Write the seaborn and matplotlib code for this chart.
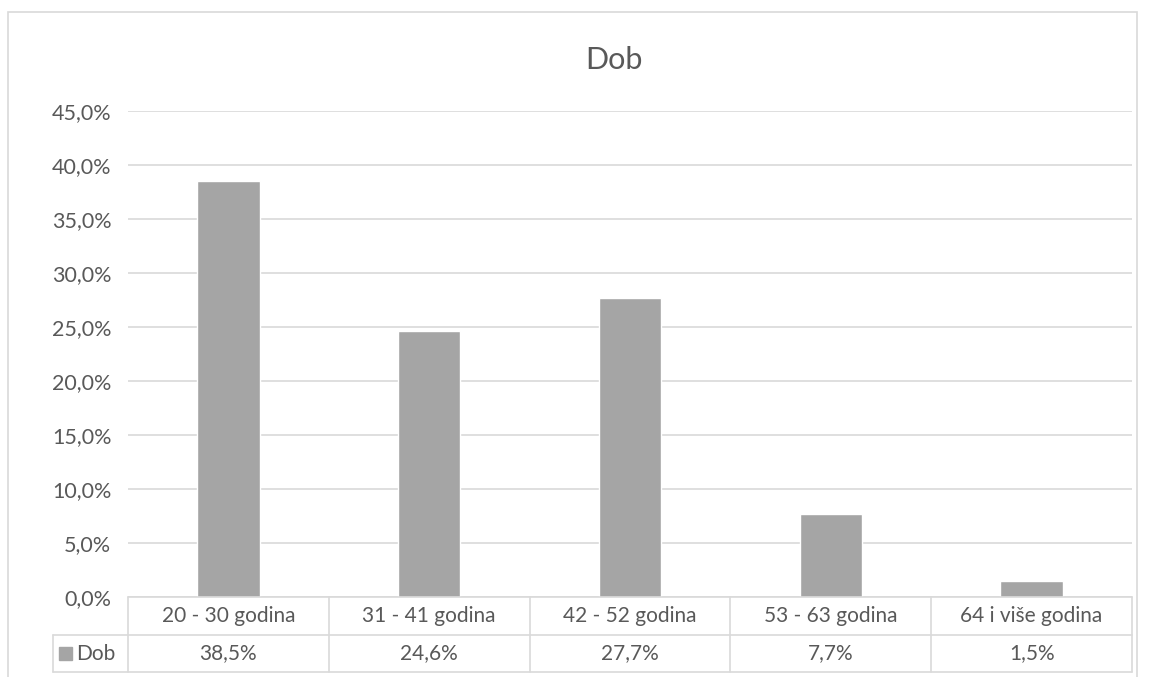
import matplotlib
matplotlib.use("Agg")
import matplotlib.pyplot as plt
import seaborn as sns
import pandas as pd
from matplotlib.ticker import FuncFormatter
from matplotlib.patches import Rectangle

# data
categories = ["20 - 30 godina", "31 - 41 godina", "42 - 52 godina", "53 - 63 godina", "64 i više godina"]
values = [0.385, 0.246, 0.277, 0.077, 0.015]
value_labels = ["38,5%", "24,6%", "27,7%", "7,7%", "1,5%"]
series_name = "Dob"

df = pd.DataFrame({"Kategorija": categories, "Udio": values})

sns.set_theme(style="white")
plt.rcParams['font.family'] = ['Lato', 'DejaVu Sans']

text_col = "#595959"
grid_col = "#D9D9D9"
bar_col = "#A5A5A5"

fig = plt.figure(figsize=(11.5, 6.77), dpi=100)
ax = fig.add_axes([128/1150, 1 - 597/677, (1132-128)/1150, (597-111)/677])

sns.barplot(data=df, x="Kategorija", y="Udio", color=bar_col, width=0.31,
            saturation=1, ax=ax)

ax.set_ylim(0, 0.45)
ax.set_yticks([i * 0.05 for i in range(10)])
ax.yaxis.set_major_formatter(FuncFormatter(lambda v, p: f"{v*100:.1f}%".replace(".", ",")))
ax.tick_params(axis="y", labelsize=15.5, colors=text_col, length=0, pad=12)
ax.set_xticks([])
ax.set_xlabel("")
ax.set_ylabel("")
ax.grid(axis="y", color=grid_col, linewidth=1.2)
ax.set_axisbelow(True)
for s in ax.spines.values():
    s.set_visible(False)
ax.set_xlim(-0.5, len(categories) - 0.5)

# data table under the axes
ax_h = 597 - 111
row1 = -38 / ax_h
row2 = -75 / ax_h
cat_w = (1132 - 128) / len(categories)
left_x = -0.5 - 75 / cat_w
trans = ax.get_xaxis_transform()
lk = dict(color=grid_col, linewidth=1.2, clip_on=False, transform=trans)
ax.plot([-0.5, len(categories) - 0.5], [0, 0], **lk)
ax.plot([left_x, len(categories) - 0.5], [row1, row1], **lk)
ax.plot([left_x, len(categories) - 0.5], [row2, row2], **lk)
ax.plot([left_x, left_x], [row1, row2], **lk)
for i in range(len(categories) + 1):
    ax.plot([i - 0.5, i - 0.5], [0, row2], **lk)
for i, (c, v) in enumerate(zip(categories, value_labels)):
    ax.text(i, row1 / 2, c, transform=trans, ha="center", va="center",
            fontsize=15, color=text_col)
    ax.text(i, (row1 + row2) / 2, v, transform=trans, ha="center", va="center",
            fontsize=15, color=text_col)
# legend key in table
ax.add_patch(Rectangle((left_x + 0.03, (row1 + row2) / 2 - 0.013), 0.065, 0.027,
                       transform=trans, color=bar_col, clip_on=False))
ax.text(left_x + 0.115, (row1 + row2) / 2, series_name, transform=trans,
        ha="left", va="center", fontsize=15, color=text_col)

fig.text(614 / 1150, 1 - 60 / 677, "Dob", ha="center", va="center",
         fontsize=22, color=text_col)

# chart border
fig.add_artist(Rectangle((8/1150, -0.05), (1137-8)/1150, 1 - 12/677 + 0.05,
                         transform=fig.transFigure, fill=False,
                         edgecolor=grid_col, linewidth=1.2))

fig.savefig("out.png", dpi=100)
